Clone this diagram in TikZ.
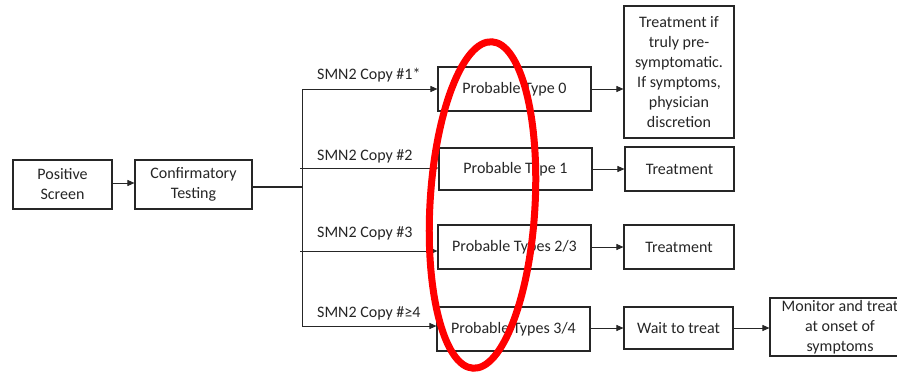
\documentclass[tikz,border=0pt]{standalone}
\usepackage{fontspec}
\setmainfont{Carlito}
\usetikzlibrary{arrows.meta}
\tikzset{
  box/.style={draw=black!85, line width=1.1pt, rectangle, inner sep=0pt,
    align=center, text=black!85, font=\fontsize{16}{20}\selectfont},
  conn/.style={draw=black!85, line width=0.9pt},
  arr/.style={conn, -{Triangle[length=7pt,width=6pt]}},
  lbl/.style={anchor=west, inner sep=0pt, text=black!85, font=\fontsize{16}{20}\selectfont},
}
\begin{document}
\begin{tikzpicture}[x=1pt, y=-1pt]
\clip (0,0) rectangle (897,375);
\fill[white] (0,0) rectangle (897,375);

% first two steps
\node[box, minimum width=99pt, minimum height=49pt] (pos) at (62.5,184.5) {Positive\\Screen};
\node[box, minimum width=117pt, minimum height=49pt] (conf) at (193.5,184.5) {Confirmatory\\Testing};

% probable type boxes
\node[box, minimum width=153pt, minimum height=44pt] (t0) at (514.5,89) {Probable Type 0};
\node[box, minimum width=153pt, minimum height=42pt] (t1) at (515.5,169) {Probable Type 1};
\node[box, minimum width=153pt, minimum height=44pt] (t23) at (514.5,247) {Probable Types 2/3};
\node[box, minimum width=153pt, minimum height=44pt] (t34) at (513.5,329) {Probable Types 3/4};

% outcome boxes
\node[box, minimum width=110pt, minimum height=132pt] (tr0) at (679,72)
  {Treatment if\\truly pre-\\symptomatic.\\If symptoms,\\physician\\discretion};
\node[box, minimum width=109pt, minimum height=44pt] (tr1) at (679.5,169) {Treatment};
\node[box, minimum width=110pt, minimum height=44pt] (tr23) at (679,247) {Treatment};
\node[box, minimum width=109pt, minimum height=42pt] (wait) at (678.5,328) {Wait to treat};
\node[box, minimum width=140pt, minimum height=58pt] (mon) at (840,327)
  {Monitor and treat\\at onset of\\symptoms};

% branching trunk
\coordinate (j) at (302,187);
\coordinate (jtop) at (302,89);
\coordinate (jbot) at (302,326);
\coordinate (s2) at (300,168);
\coordinate (s3) at (300,251);

\draw[arr] (pos.east |- 0,183) -- (conf.west |- 0,183);
\draw[conn, line width=1.8pt] (conf.east |- j) -- (j);
\draw[conn] (jtop) -- (jbot);
\draw[arr] (jtop) -- (t0.west |- jtop);
\draw[arr] (s2) -- (t1.west |- s2);
\draw[arr] (s3) -- (t23.west |- s3);
\draw[arr] (jbot) -- (t34.west |- jbot);

\node[lbl] (l1) at (317,75) {SMN2 Copy \#1*};
\node[lbl] (l2) at (317,156) {SMN2 Copy \#2};
\node[lbl] (l3) at (317,233) {SMN2 Copy \#3};
\node[lbl] (l4) at (317,313) {SMN2 Copy \#≥4};

\draw[arr] (t0) -- (tr0.west |- t0);
\draw[arr] (t1) -- (tr1);
\draw[arr] (t23) -- (tr23);
\draw[arr] (t34.east |- wait) -- (wait);
\draw[arr] (wait) -- (mon.west |- wait);

% highlight ring
\draw[red, line width=7pt, rotate around={-3.3:(482.5,205)}]
  (482.5,205) ellipse [x radius=52.5, y radius=163.5];
\end{tikzpicture}
\end{document}
